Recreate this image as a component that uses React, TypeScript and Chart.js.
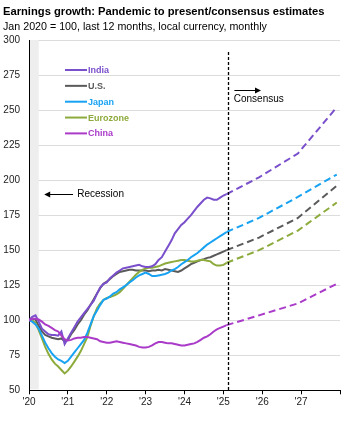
import React, { useEffect, useRef } from "react";
import { Chart, registerables } from "chart.js";

Chart.register(...registerables);

const FONT = '"Liberation Sans", Arial, Helvetica, sans-serif';

const seriesNames = ["India", "U.S.", "Japan", "Eurozone", "China"];
const seriesColors = ["#7a4fcb", "#5a5a5a", "#18a3f2", "#8dab3c", "#aa3bc9"];

// Monthly, Jan 2020 (month 0) .. Feb 2025 (month 61)
const india = [
  100, 102.5, 103.5, 99, 94, 92, 90, 89.5, 89.5, 89, 92, 83,
  87, 91, 95, 99, 102, 105, 108, 111, 114, 119, 123.5, 126,
  127, 130, 132, 134, 135.5, 137, 137.5, 138, 138.5, 139, 139.5, 138.5,
  138, 138, 138.5, 140, 143, 145, 149, 153, 157, 162, 165, 168,
  170, 172.5, 175, 178, 181, 183.5, 186, 187.5, 187, 186, 186, 187.5,
  189, 190,
];
const us = [
  100, 101, 100.5, 96, 92, 89.5, 88.5, 87.5, 87, 86.5, 87, 85,
  86, 90, 93, 97, 100, 104, 107, 111, 115, 119, 123, 126,
  127.5, 129.5, 131.5, 133, 134.5, 135, 135.5, 136, 136, 135.5, 135.5, 135.5,
  135.5, 135, 135.5, 135.5, 136, 135.5, 136.5, 136, 135.5, 135, 134.5, 135.5,
  137, 138.5, 140, 141, 142, 143, 143.5, 144.5, 145, 146, 147, 148,
  149, 150,
];
const japan = [
  100, 99, 97, 94, 89, 84, 80, 76.5, 74, 72, 71, 69.5,
  71, 74, 77, 80, 83, 86, 91, 97, 103, 107, 111, 114.5,
  115.5, 117, 119, 120, 122, 123.5, 125, 127, 128.5, 130.5, 132, 133,
  134, 133, 131.5, 131.5, 132, 132.5, 133, 134, 135.5, 136.5, 138, 140,
  141.5, 143, 145, 146.5, 148, 150, 152, 154, 155.5, 157, 158.5, 160,
  161.5, 163,
];
const eurozone = [
  100, 100, 98, 93, 87, 81, 76, 72, 69, 67, 64.5, 62,
  64, 67, 70.5, 74, 78, 83, 88, 96, 103, 108.5, 112, 114.5,
  116, 116.5, 117.5, 118.5, 120, 122.5, 125, 127.5, 130, 132.5, 134.5, 136,
  137, 137.5, 137.5, 138, 138.5, 139.5, 140.5, 141, 141.5, 142, 142.5, 143,
  143, 142.5, 142, 142, 142.5, 143, 143, 142.5, 142, 140, 139, 139,
  139.5, 141,
];
const china = [
  100, 101, 101, 100.5, 99, 97, 96, 94.5, 93, 92, 89, 86.5,
  85.5, 86, 87, 87.5, 87.5, 88, 88, 87.5, 87, 86.5, 85, 84.5,
  84, 84, 84.5, 85, 84.5, 84, 83.5, 83, 82.5, 82, 81, 80.5,
  80.5, 81, 82, 83.5, 84.5, 84.5, 84, 83.5, 83.5, 83, 82.5, 82,
  82, 82.5, 83, 83.5, 84.5, 86, 87.5, 88.5, 90, 92, 93.5, 94.5,
  95.5, 96.5,
];

// Consensus estimates (months since Jan 2020)
const forecastMonths = [61, 71, 83, 95];
const indiaForecast = [190, 202, 219, 252];
const usForecast = [150, 159, 173, 196];
const japanForecast = [163, 173, 188, 204];
const eurozoneForecast = [141, 150, 164, 184];
const chinaForecast = [96.5, 103.5, 112, 126];

const xTickValues = [0, 12, 24, 36, 48, 60, 72, 84, 96];
const xTickLabels = ["'20", "'21", "'22", "'23", "'24", "'25", "'26", "'27", ""];
const yMin = 50;
const yMax = 300;
const yStep = 25;

const recessionMonths = [0, 3];
const consensusMonth = 61.3;

export default function App() {
  const ref = useRef<HTMLCanvasElement>(null);

  useEffect(() => {
    const canvas = ref.current;
    if (!canvas) return;
    const hist = [india, us, japan, eurozone, china];
    const fc = [indiaForecast, usForecast, japanForecast, eurozoneForecast, chinaForecast];
    const drawOrder = [4, 0, 2, 3, 1]; // first = on top
    const datasets: any[] = [];
    drawOrder.forEach((i) => {
      datasets.push({
        label: seriesNames[i],
        data: hist[i].map((v, m) => ({ x: m, y: v })),
        borderColor: seriesColors[i],
        borderWidth: 2,
        pointRadius: 0,
        tension: 0,
        fill: false,
      });
    });
    drawOrder.forEach((i) => {
      datasets.push({
        label: seriesNames[i] + " consensus",
        data: fc[i].map((v, k) => ({ x: forecastMonths[k], y: v })),
        borderColor: seriesColors[i],
        borderWidth: 2,
        borderDash: [7, 4],
        pointRadius: 0,
        tension: 0,
        fill: false,
      });
    });

    const annot = {
      id: "annot",
      beforeDatasetsDraw(chart: any) {
        const { ctx, chartArea, scales } = chart;
        const x = scales.x;
        ctx.save();
        ctx.fillStyle = "#eeeeee";
        const x0 = x.getPixelForValue(recessionMonths[0]);
        const x1 = x.getPixelForValue(recessionMonths[1]);
        ctx.fillRect(x0 + 1, chartArea.top, x1 - x0 - 1, chartArea.bottom - chartArea.top - 1);
        ctx.restore();
      },
      afterDatasetsDraw(chart: any) {
        const { ctx, chartArea, scales } = chart;
        const x = scales.x;
        const y = scales.y;
        ctx.save();
        // consensus divider
        const cx = Math.round(x.getPixelForValue(consensusMonth)) + 0.5;
        ctx.strokeStyle = "#000";
        ctx.lineWidth = 1.3;
        ctx.setLineDash([3, 2]);
        ctx.beginPath();
        ctx.moveTo(cx, y.getPixelForValue(291.5));
        ctx.lineTo(cx, chartArea.bottom);
        ctx.stroke();
        ctx.setLineDash([]);

        const arrow = (xFrom: number, xTo: number, yy: number) => {
          ctx.strokeStyle = "#000";
          ctx.fillStyle = "#000";
          ctx.lineWidth = 1;
          ctx.beginPath();
          ctx.moveTo(xFrom, yy);
          ctx.lineTo(xTo, yy);
          ctx.stroke();
          const dir = xTo > xFrom ? 1 : -1;
          ctx.beginPath();
          ctx.moveTo(xTo + dir * 1, yy);
          ctx.lineTo(xTo - dir * 5, yy - 3);
          ctx.lineTo(xTo - dir * 5, yy + 3);
          ctx.closePath();
          ctx.fill();
        };

        ctx.font = `10px ${FONT}`;
        ctx.textBaseline = "middle";
        ctx.textAlign = "left";
        ctx.fillStyle = "#000";
        // Recession
        const ry = Math.round(y.getPixelForValue(190)) + 0.5;
        arrow(x.getPixelForValue(13.6), x.getPixelForValue(5), ry);
        ctx.fillStyle = "#000";
        ctx.fillText("Recession", x.getPixelForValue(14.9), ry);
        // Consensus
        const ay = Math.round(y.getPixelForValue(264.3)) + 0.5;
        arrow(x.getPixelForValue(63.4), x.getPixelForValue(71.3), ay);
        ctx.fillStyle = "#000";
        ctx.fillText("Consensus", x.getPixelForValue(63.2), y.getPixelForValue(257.4));

        // legend
        ctx.font = `bold 9px ${FONT}`;
        seriesNames.forEach((name, i) => {
          const ly = chartArea.top + 30 + i * 15.85;
          ctx.strokeStyle = seriesColors[i];
          ctx.lineWidth = 2;
          ctx.beginPath();
          ctx.moveTo(chartArea.left + 36, ly);
          ctx.lineTo(chartArea.left + 58, ly);
          ctx.stroke();
          ctx.fillStyle = seriesColors[i];
          ctx.fillText(name, chartArea.left + 59, ly + 0.5);
        });
        ctx.restore();
      },
    };

    const chart = new Chart(canvas, {
      type: "line",
      data: { datasets },
      plugins: [annot],
      options: {
        animation: false,
        responsive: false,
        devicePixelRatio: 1,
        events: [],
        layout: { padding: { top: 40, right: 18, left: 0, bottom: 0 } },
        plugins: {
          legend: { display: false },
          tooltip: { enabled: false },
          title: { display: false },
        },
        scales: {
          x: {
            type: "linear",
            min: 0,
            max: 96,
            afterBuildTicks: (s: any) => {
              s.ticks = xTickValues.map((v) => ({ value: v }));
            },
            ticks: {
              autoSkip: false,
              maxRotation: 0,
              padding: 2,
              color: "#222",
              font: { size: 10, family: FONT },
              callback: (v: any) => {
                const idx = xTickValues.indexOf(Number(v));
                return idx >= 0 ? xTickLabels[idx] : "";
              },
            },
            grid: { drawOnChartArea: false, drawTicks: true, tickLength: 4, color: "#000" },
            border: { color: "#000", width: 1 },
            afterFit: (s: any) => {
              s.height = 38.7;
            },
          },
          y: {
            min: yMin,
            max: yMax,
            ticks: {
              stepSize: yStep,
              padding: 9,
              color: "#222",
              font: { size: 10, family: FONT },
            },
            grid: { color: "#dcdcdc", drawTicks: false, lineWidth: 1 },
            border: { color: "#000", width: 1 },
            afterFit: (s: any) => {
              s.width = 29;
            },
          },
        },
      } as any,
    });
    return () => chart.destroy();
  }, []);

  return (
    <div style={{ position: "fixed", left: 0, top: 0, width: 358, height: 429, background: "#fff" }}>
      <canvas ref={ref} width={358} height={429} style={{ position: "absolute", left: 0, top: 0 }} />
      <div
        style={{
          position: "absolute",
          left: 3,
          top: 6,
          font: `bold 11.2px ${FONT}`,
          lineHeight: "1",
          color: "#000",
          whiteSpace: "nowrap",
        }}
      >
        Earnings growth: Pandemic to present/consensus estimates
      </div>
      <div
        style={{
          position: "absolute",
          left: 3,
          top: 21,
          font: `10.7px ${FONT}`,
          lineHeight: "1",
          color: "#000",
          whiteSpace: "nowrap",
        }}
      >
        Jan 2020 = 100, last 12 months, local currency, monthly
      </div>
    </div>
  );
}
